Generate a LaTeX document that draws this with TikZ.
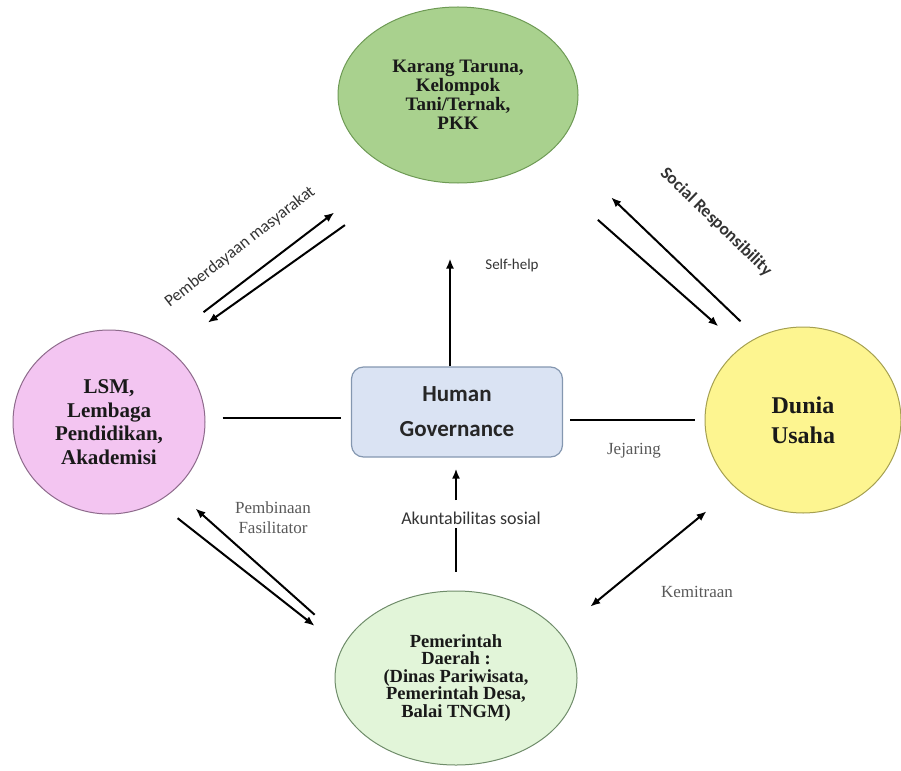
\documentclass[tikz,border=0pt]{standalone}
\usepackage{fontspec}
\setmainfont{Liberation Serif}
\newfontfamily\calibrifont{Carlito}
\usetikzlibrary{shapes.geometric,arrows.meta,calc}
\definecolor{tarunagreen}{HTML}{A9D18E}
\definecolor{tarunaline}{HTML}{6E9A55}
\definecolor{lsmpink}{HTML}{F3C5F1}
\definecolor{lsmline}{HTML}{8E6B8C}
\definecolor{duniayellow}{HTML}{FDF590}
\definecolor{dunialine}{HTML}{A5A050}
\definecolor{pemdagreen}{HTML}{E2F5D9}
\definecolor{pemdaline}{HTML}{6F8C6A}
\definecolor{hgblue}{HTML}{DAE3F3}
\definecolor{hgline}{HTML}{8497B0}

\begin{document}
\begin{tikzpicture}[x=1pt,y=-1pt,
  org/.style={ellipse,line width=1pt,inner sep=0pt,align=center,text=black!90},
  arr/.style={line width=2pt,-{Latex[length=10pt,width=8pt]}},
  twoway/.style={line width=2pt,{Latex[length=10pt,width=8pt]}-{Latex[length=10pt,width=8pt]}},
  link/.style={line width=2pt},
  sanslbl/.style={font=\calibrifont\fontsize{17}{20}\selectfont,text=black!80},
  seriflbl/.style={font=\fontsize{17}{20}\selectfont,text=black!65,align=center}]
  \useasboundingbox (0,0) rectangle (901,770);
  % the five actors
  \node[org,fill=tarunagreen,draw=tarunaline,minimum width=240pt,minimum height=176pt,
    font=\bfseries\fontsize{19}{19}\selectfont] (taruna) at (458,95)
    {Karang Taruna,\\Kelompok\\Tani/Ternak,\\PKK};
  \node[org,fill=lsmpink,draw=lsmline,minimum width=192pt,minimum height=184pt,
    font=\bfseries\fontsize{21}{23.5}\selectfont] (lsm) at (109,422)
    {LSM,\\Lembaga\\Pendidikan,\\Akademisi};
  \node[org,fill=duniayellow,draw=dunialine,minimum width=196pt,minimum height=186pt,
    font=\bfseries\fontsize{24}{30}\selectfont] (dunia) at (803,420)
    {Dunia\\Usaha};
  \node[org,fill=pemdagreen,draw=pemdaline,minimum width=242pt,minimum height=174pt,
    font=\bfseries\fontsize{18.5}{17.5}\selectfont] (pemda) at (456,678)
    {Pemerintah\\Daerah :\\(Dinas Pariwisata,\\Pemerintah Desa,\\Balai TNGM)};
  \node[rectangle,rounded corners=12pt,fill=hgblue,draw=hgline,line width=1.2pt,
    minimum width=211pt,minimum height=90pt,align=center,text=black!85,
    font=\calibrifont\bfseries\fontsize{23}{35}\selectfont] (hg) at (457,412)
    {Human\\Governance};
  % labels
  \node[sanslbl,font=\calibrifont\fontsize{15}{18}\selectfont] (selfhelp) at (512,265) {Self-help};
  \node[sanslbl,rotate=38] (berdaya) at (240,247) {Pemberdayaan masyarakat};
  \node[sanslbl,font=\calibrifont\bfseries\fontsize{17.5}{20}\selectfont,rotate=-44] (csr) at (716,222) {Social Responsibility};
  \node[seriflbl] (jejaring) at (634,451) {Jejaring};
  \node[seriflbl] (fasil) at (273,518) {Pembinaan\\Fasilitator};
  \node[seriflbl] (mitra) at (697,592) {Kemitraan};
  \node[sanslbl,font=\calibrifont\fontsize{18}{20}\selectfont] (akun) at (471,518) {Akuntabilitas sosial};
  % links to the centre
  \draw[link,shorten <=17pt,shorten >=10pt] ([yshift=-6pt]hg.west -| lsm.east) -- ([yshift=-6pt]hg.west);
  \draw[link,shorten <=7pt,shorten >=10pt] ([yshift=-8pt]hg.east) -- ([yshift=-8pt]hg.east -| dunia.west);
  \draw[arr,shorten >=75pt] ([xshift=-7pt]hg.north) -- ([xshift=-7pt]hg.north |- taruna.south);
  \draw[link,shorten <=19pt] (pemda.north) -- (pemda.north |- akun.south);
  \draw[arr,shorten <=8pt,shorten >=11pt] (pemda.north |- akun.north) -- (pemda.north |- hg.south);
  % pairs between the actors
  \draw[arr,shorten <=53pt,shorten >=72pt] (lsm.56) -- (taruna.228);
  \draw[arr,shorten <=83pt,shorten >=47pt] (taruna.241) -- (lsm.50);
  \draw[arr,shorten <=23pt,shorten >=75pt] (dunia.119) -- (taruna.333);
  \draw[arr,shorten <=85pt,shorten >=31pt] (taruna.318) -- (dunia.130);
  \draw[arr,shorten <=41pt,shorten >=28pt] (pemda.162) -- (lsm.314);
  \draw[arr,shorten <=26pt,shorten >=35pt] (lsm.301) -- (pemda.165);
  \draw[twoway,shorten <=40pt,shorten >=37pt] (pemda.24) -- (dunia.225);
\end{tikzpicture}
\end{document}
